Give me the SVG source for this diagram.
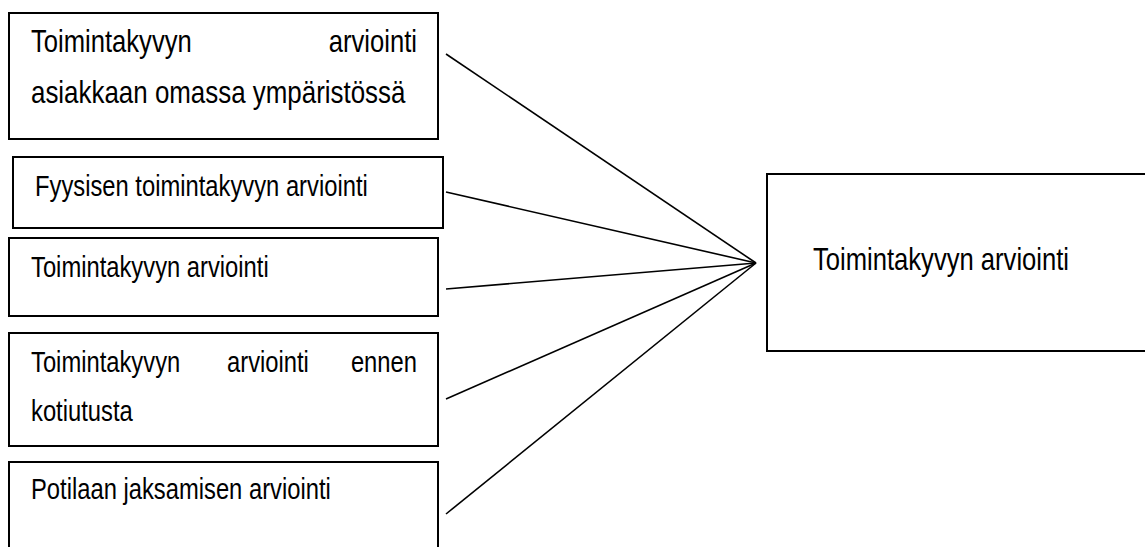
<svg xmlns="http://www.w3.org/2000/svg" width="1145" height="547" viewBox="0 0 1145 547">
<style>
.box{fill:#fff;stroke:#000;stroke-width:2}
.ln{stroke:#000;stroke-width:1.6;fill:none}
.t{font-family:"Liberation Sans",Arial,sans-serif;font-size:32px;fill:#000}
.s{font-size:29px}
.e{text-anchor:end}
</style>
<rect width="1145" height="547" fill="#fff"/>
<g id="connectors">
<line class="ln" x1="446" y1="54" x2="756" y2="263"/>
<line class="ln" x1="446" y1="192" x2="756" y2="263"/>
<line class="ln" x1="446" y1="289" x2="756" y2="263"/>
<line class="ln" x1="446" y1="399" x2="756" y2="263"/>
<line class="ln" x1="446" y1="514" x2="756" y2="263"/>
</g>
<g id="n1">
<rect class="box" x="9" y="13" width="429" height="126"/>
<text class="t" transform="translate(31,52) scale(0.8,1)">Toimintakyvyn</text>
<text class="t e" transform="translate(417,52) scale(0.8,1)">arviointi</text>
<text class="t" transform="translate(31,103) scale(0.81,1)">asiakkaan omassa ympäristössä</text>
</g>
<g id="n2">
<rect class="box" x="13" y="157" width="430" height="71"/>
<text class="t s" transform="translate(35,196) scale(0.82,1)">Fyysisen toimintakyvyn arviointi</text>
</g>
<g id="n3">
<rect class="box" x="9" y="238" width="429" height="78"/>
<text class="t s" transform="translate(31,277) scale(0.82,1)">Toimintakyvyn arviointi</text>
</g>
<g id="n4">
<rect class="box" x="9" y="333" width="429" height="113"/>
<text class="t s" transform="translate(31,372) scale(0.82,1)">Toimintakyvyn</text>
<text class="t s" transform="translate(227,372) scale(0.82,1)">arviointi</text>
<text class="t s e" transform="translate(417,372) scale(0.82,1)">ennen</text>
<text class="t s" transform="translate(31,421) scale(0.82,1)">kotiutusta</text>
</g>
<g id="n5">
<rect class="box" x="9" y="462" width="429" height="100"/>
<text class="t s" transform="translate(31,499) scale(0.82,1)">Potilaan jaksamisen arviointi</text>
</g>
<g id="target">
<rect class="box" x="767" y="174" width="390" height="177"/>
<text class="t" transform="translate(813,270) scale(0.8,1)">Toimintakyvyn arviointi</text>
</g>
</svg>
